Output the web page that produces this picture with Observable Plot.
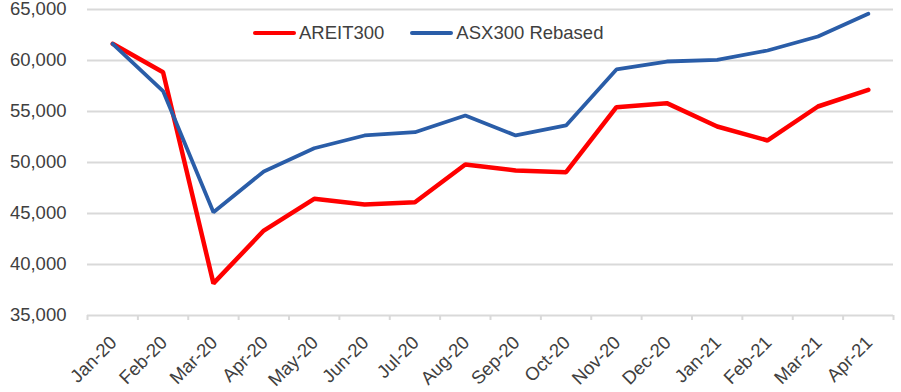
<!DOCTYPE html>
<html><head><meta charset="utf-8">
<script src="https://cdn.jsdelivr.net/npm/d3@7"></script>
<script src="https://cdn.jsdelivr.net/npm/@observablehq/plot@0.6"></script>
<style>
body{margin:0;background:#fff;font-family:"Liberation Sans",Arial,sans-serif;}
#wrap{position:relative;width:901px;height:392px;}
.legend{position:absolute;top:22px;left:253px;display:flex;align-items:center;font-size:18.5px;color:#404040;line-height:22px;}
.item{display:flex;align-items:center;}
.sw{display:inline-block;width:43px;height:4px;border-radius:2px;margin-right:3px}
</style></head><body><div id="wrap"></div>
<script>
const months = ["Jan-20","Feb-20","Mar-20","Apr-20","May-20","Jun-20","Jul-20","Aug-20","Sep-20","Oct-20","Nov-20","Dec-20","Jan-21","Feb-21","Mar-21","Apr-21"];
const areit = [61640, 58850, 38150, 43330, 46440, 45880, 46110, 49800, 49220, 49050, 55420, 55820, 53530, 52160, 55490, 57130];
const asx =   [61640, 57000, 45130, 49120, 51400, 52650, 52970, 54610, 52650, 53630, 59120, 59900, 60070, 60980, 62350, 64580];
const yTicks = [35000, 40000, 45000, 50000, 55000, 60000, 65000];
const seriesNames = ["AREIT300", "ASX300 Rebased"];
const seriesColors = ["#ff0000", "#2a5da8"];

const idx = months.map((_, i) => i);
const bounds = d3.range(-0.5, months.length + 0.5, 1);
const rowsA = months.map((m, i) => ({i, v: areit[i]}));
const rowsB = months.map((m, i) => ({i, v: asx[i]}));

const chart = Plot.plot({
  width: 901, height: 392,
  marginLeft: 87, marginRight: 8, marginTop: 9, marginBottom: 77,
  x: {type: "linear", domain: [-0.5, months.length - 0.5]},
  y: {domain: [35000, 65000]},
  style: {fontFamily: '"Liberation Sans", Arial, sans-serif', fontSize: "18.5px", color: "#404040", background: "#fff", overflow: "visible"},
  marks: [
    Plot.gridY(yTicks, {stroke: "#d9d9d9", strokeOpacity: 1, strokeWidth: 2}),
    Plot.axisY(yTicks, {tickSize: 0, tickPadding: 21, tickFormat: d3.format(","), fontSize: 18.5, fill: "#404040", label: null}),
    Plot.axisX(bounds, {tickSize: 5, tickFormat: () => "", stroke: "#d9d9d9", strokeWidth: 2, label: null}),
    Plot.axisX(idx, {tickSize: 0, tickRotate: -45, tickPadding: 24, dx: 1, tickFormat: i => months[i], fontSize: 18.5, fill: "#404040", label: null}),
    Plot.line(rowsA, {x: "i", y: "v", stroke: seriesColors[0], strokeWidth: 4.5, strokeLinejoin: "miter"}),
    Plot.line(rowsB, {x: "i", y: "v", stroke: seriesColors[1], strokeWidth: 3.8, strokeLinejoin: "miter"})
  ]
});
const wrap = document.getElementById("wrap");
wrap.appendChild(chart);
const leg = document.createElement("div");
leg.className = "legend";
seriesNames.forEach((n, k) => {
  const it = document.createElement("span");
  it.className = "item";
  if (k > 0) it.style.marginLeft = "26px";
  const sw = document.createElement("span");
  sw.className = "sw"; sw.style.background = seriesColors[k];
  it.appendChild(sw);
  it.appendChild(document.createTextNode(n));
  leg.appendChild(it);
});
wrap.appendChild(leg);
</script></body></html>
